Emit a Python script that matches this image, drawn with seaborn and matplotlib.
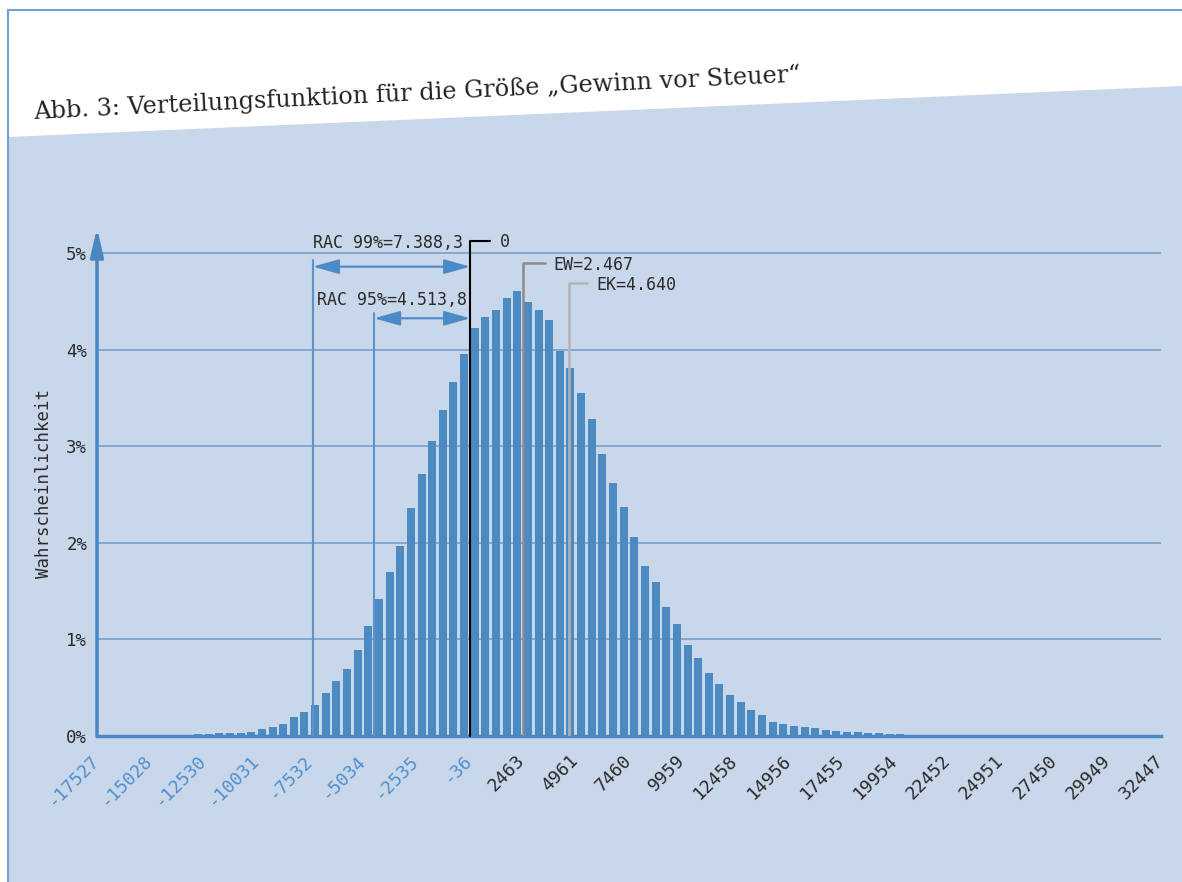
import numpy as np
import pandas as pd
import seaborn as sns
import matplotlib.pyplot as plt
import matplotlib.transforms as mtransforms
from matplotlib.patches import Polygon
from matplotlib.lines import Line2D

# Data: 100 bins between the first and last tick, probability in %
tick_values = [-17527, -15028, -12530, -10031, -7532, -5034, -2535, -36, 2463, 4961,
               7460, 9959, 12458, 14956, 17455, 19954, 22452, 24951, 27450, 29949, 32447]
prob = [
    0, 0, 0, 0, 0, 0, 0, 0, 0, 0.02,
    0.02, 0.03, 0.03, 0.03, 0.04, 0.07, 0.09, 0.12, 0.20, 0.25,
    0.32, 0.45, 0.57, 0.69, 0.89, 1.14, 1.42, 1.70, 1.97, 2.36,
    2.71, 3.05, 3.38, 3.67, 3.96, 4.22, 4.34, 4.41, 4.54, 4.61,
    4.49, 4.41, 4.31, 3.99, 3.81, 3.55, 3.28, 2.92, 2.62, 2.37,
    2.06, 1.76, 1.59, 1.34, 1.16, 0.94, 0.81, 0.65, 0.54, 0.42,
    0.35, 0.27, 0.22, 0.15, 0.12, 0.10, 0.09, 0.08, 0.06, 0.05,
    0.04, 0.04, 0.03, 0.03, 0.02, 0.02, 0, 0, 0, 0,
    0, 0, 0, 0, 0, 0, 0, 0, 0, 0,
    0, 0, 0, 0, 0, 0, 0, 0, 0, 0,
]
rac99 = 7388.3
rac95 = 4513.8
ew = 2467
ek = 4640
title = "Abb. 3: Verteilungsfunktion für die Größe „Gewinn vor Steuer“"

edges = np.linspace(tick_values[0], tick_values[-1], len(prob) + 1)
df = pd.DataFrame({"center": (edges[:-1] + edges[1:]) / 2, "prob": prob})

# Colours
BG = "#c9d7ea"
FRAME = "#6f9fd3"
BAR = "#4b8bc1"
GRID = "#7fa2cd"
AXIS = "#4a87c2"
NEG = "#4f8fcf"
TXT = "#2b2b2b"
MONO = "DejaVu Sans Mono"

sns.set_theme(style="white")
fig = plt.figure(figsize=(11.82, 8.82), dpi=100)
fig.patch.set_facecolor("white")

W, H = 1182, 882
fig.patches.append(Polygon([(8 / W, 1 - 137 / H), (1, 1 - 86 / H), (1, 0), (8 / W, 0)],
                           closed=True, transform=fig.transFigure,
                           facecolor=BG, edgecolor="none", zorder=-10))
fig.lines.append(Line2D([8 / W, 1], [1 - 10 / H, 1 - 10 / H], transform=fig.transFigure,
                        color=FRAME, lw=1.5, zorder=-5))
fig.lines.append(Line2D([8 / W, 8 / W], [0, 1 - 10 / H], transform=fig.transFigure,
                        color=FRAME, lw=1.5, zorder=-5))

fig.text(34 / W, 1 - 119 / H, title, rotation=2.8, rotation_mode="anchor",
         ha="left", va="baseline", family="DejaVu Serif", size=17.3, color="#222222")

ax = fig.add_axes([97 / W, 146 / H, 1064 / W, 508 / H])
ax.set_facecolor("none")
ax.set_zorder(1)

sns.barplot(data=df, x="center", y="prob", native_scale=True, width=0.75,
            color=BAR, saturation=1, errorbar=None, ax=ax, zorder=3,
            linewidth=0, edgecolor="none")

ax.set_xlim(tick_values[0], tick_values[-1])
ax.set_ylim(0, 5.26)

# Grid and axes
ax.set_yticks([0, 1, 2, 3, 4, 5])
ax.set_yticklabels([f"{v}%" for v in range(6)], family=MONO, size=12.5, color=TXT)
ax.yaxis.grid(True, color=GRID, lw=1.3)
ax.xaxis.grid(False)
ax.set_axisbelow(True)
for s in ["top", "right", "left"]:
    ax.spines[s].set_visible(False)
ax.spines["bottom"].set_color(AXIS)
ax.spines["bottom"].set_linewidth(2.5)
ax.spines["bottom"].set_zorder(4)

ax.set_xticks(tick_values)
ax.set_xticklabels([str(v) for v in tick_values], rotation=45, ha="right", va="top",
                   family=MONO, size=13)
ax.tick_params(axis="x", length=0, pad=11)
ax.tick_params(axis="y", length=0, pad=7)
shift = mtransforms.ScaledTranslation(6 / 100, 0, fig.dpi_scale_trans)
for v, lbl in zip(tick_values, ax.get_xticklabels()):
    lbl.set_color(NEG if v < 0 else TXT)
    lbl.set_transform(lbl.get_transform() + shift)

ax.set_xlabel("")
ax.set_ylabel("Wahrscheinlichkeit", family=MONO, size=12.5, color=TXT)
ax.yaxis.set_label_coords(-0.0498, 0.498)
ax.yaxis.label.set_va("center")

# y axis as arrow
ax.annotate("", xy=(0, 1), xytext=(0, 0), xycoords="axes fraction",
            arrowprops=dict(arrowstyle="-|>,head_length=1.2,head_width=0.28",
                            color=AXIS, lw=2.5, mutation_scale=14,
                            shrinkA=0, shrinkB=0), zorder=5)

# Annotations
kw = dict(family=MONO, size=12, color=TXT, va="center")
ax.plot([0, 0, 950], [0, 5.128, 5.128], color="black", lw=1.5, zorder=6, clip_on=False)
ax.text(1401, 5.115, "0", ha="left", **kw)

ax.plot([ew, ew, 3515], [0, 4.90, 4.90], color="#8a8a8a", lw=1.8, zorder=6)
ax.text(3890, 4.88, f"EW={ew:,}".replace(",", "."), ha="left", **kw)

ax.plot([ek, ek, 5487], [0, 4.69, 4.69], color="#b4b4b4", lw=1.8, zorder=6)
ax.text(5910, 4.67, f"EK={ek:,}".replace(",", "."), ha="left", **kw)

arrow_kw = dict(arrowstyle="<|-|>,head_length=1.6,head_width=0.45", color="#4a8ac6",
                lw=1.5, mutation_scale=10, shrinkA=0, shrinkB=0)
ax.plot([-rac99, -rac99], [0, 4.93], color="#5b93cc", lw=1.5, zorder=6)
ax.annotate("", xy=(0, 4.86), xytext=(-rac99, 4.86), arrowprops=arrow_kw, zorder=6)
ax.text(-351, 5.108, "RAC 99%=7.388,3", ha="right", **kw)

ax.plot([-rac95, -rac95], [0, 4.38], color="#5b93cc", lw=1.5, zorder=6)
ax.annotate("", xy=(0, 4.325), xytext=(-rac95, 4.325), arrowprops=arrow_kw, zorder=6)
ax.text(-149, 4.514, "RAC 95%=4.513,8", ha="right", **kw)

fig.savefig("out.png", dpi=100)
